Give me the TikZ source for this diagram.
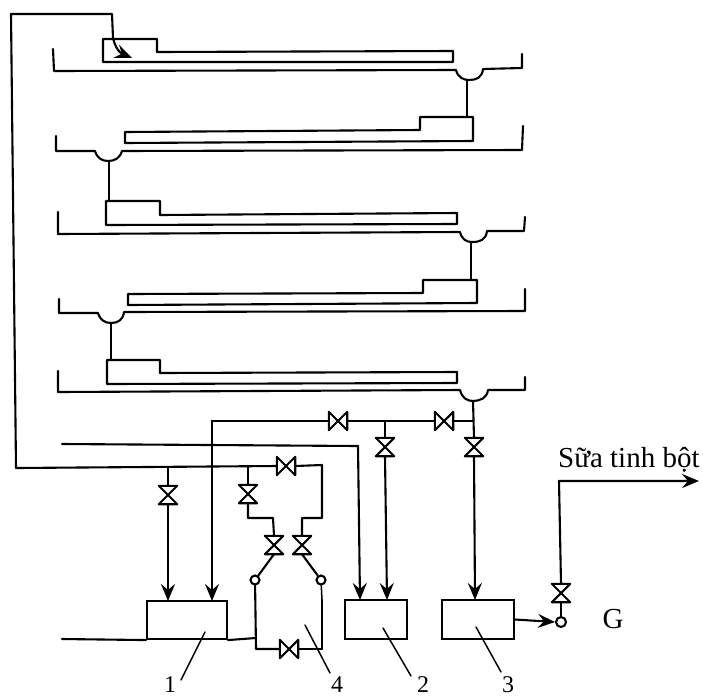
\documentclass[tikz,border=0pt]{standalone}
\usepackage{fontspec}
\setmainfont{Liberation Serif}
\usetikzlibrary{arrows.meta}
\tikzset{
  pipe/.style={line width=2.1pt,line join=round,line cap=round},
  thin pipe/.style={line width=1.5pt,line cap=round},
  flow/.style={pipe,-{Stealth[length=17pt,width=14pt,inset=6pt]}},
  vesselbox/.style={draw,line width=2.1pt,rectangle,inner sep=0pt},
  valvenode/.style={rectangle,inner sep=0pt,minimum width=18pt,minimum height=18pt},
  sep/.style={circle,draw,line width=2.1pt,fill=white,inner sep=0pt,minimum size=9pt},
  lab/.style={font=\fontsize{24}{24}\selectfont,inner sep=0pt},
  outlab/.style={font=\fontsize{29}{29}\selectfont,inner sep=0pt}
}
\newcommand{\vvalve}[3]{\node[valvenode] (#1) at (#2,#3) {};
  \draw[pipe] (#1.north west)--(#1.north east)--(#1.south west)--(#1.south east)--cycle;}
\newcommand{\hvalve}[3]{\node[valvenode] (#1) at (#2,#3) {};
  \draw[pipe] (#1.north west)--(#1.south west)--(#1.north east)--(#1.south east)--cycle;}
\begin{document}
\begin{tikzpicture}[x=1pt,y=-1pt]
\useasboundingbox (0,0) rectangle (703,699);
% trays and channels
\draw[pipe] (53,49)--(54,71)--(456,70) .. controls (458,78) and (464,80) .. (469,80) .. controls (476,80) and (482,78) .. (483,69)--(522,68)--(522,54);
\draw[pipe] (103,39)--(157,39)--(157,52)--(453,51)--(453,62)--(103,62)--cycle;
\draw[pipe] (56,136)--(56,151)--(95,151) .. controls (97,158) and (102,161) .. (108,161) .. controls (115,161) and (120,158) .. (122,151)--(522,150)--(523,126);
\draw[pipe] (125,132)--(420,130)--(420,117)--(473,117)--(473,141)--(125,143)--cycle;
\draw[pipe] (58,212)--(58,234)--(460,232) .. controls (462,240) and (467,242) .. (472,242) .. controls (480,242) and (486,240) .. (487,231)--(524,231)--(525,217);
\draw[pipe] (106,201)--(160,201)--(160,215)--(457,213)--(457,224)--(106,225)--cycle;
\draw[pipe] (59,299)--(59,313)--(98,313) .. controls (100,320) and (105,323) .. (111,323) .. controls (118,323) and (123,320) .. (124,312)--(525,311)--(525,289);
\draw[pipe] (128,294)--(423,293)--(423,280)--(477,280)--(477,303)--(128,305)--cycle;
\draw[pipe] (58,371)--(58,392)--(460,390) .. controls (462,398) and (467,401) .. (473,401) .. controls (480,401) and (487,398) .. (488,390)--(525,390)--(525,377);
\draw[pipe] (107,360)--(160,360)--(160,373)--(457,372)--(457,383)--(107,384)--cycle;
% tray-to-tray pipes
\draw[pipe] (467,80)--(467,117);
\draw[pipe] (109,161)--(109,201);
\draw[pipe] (471,242)--(471,280);
\draw[pipe] (111,323)--(111,360);
% vessels
\node[vesselbox,minimum width=80pt,minimum height=38pt] (box1) at (187,620) {};
\node[vesselbox,minimum width=62pt,minimum height=39pt] (box2) at (376,619.5) {};
\node[vesselbox,minimum width=72pt,minimum height=39pt] (box3) at (478,619.5) {};
% valves
\hvalve{v338}{338}{421}
\hvalve{v444}{444}{421}
\vvalve{v385}{385}{447}
\vvalve{v473}{474}{447}
\vvalve{v168}{168}{495}
\vvalve{v248}{248}{494}
\hvalve{v286}{286}{466}
\vvalve{v274}{274}{545}
\vvalve{v302}{302}{545}
\hvalve{v289}{289}{649}
\vvalve{v561}{561}{593}
\node[sep] (cl) at (255,580) {};
\node[sep] (cr) at (321,580) {};
\node[sep,minimum size=10pt] (cg) at (561,622) {};
% feed from the last tray
\draw[pipe] (473,401)--(v473.north);
\draw[pipe] (473,421)--(v444.east);
\draw[pipe] (v444.west)--(v338.east);
\draw[pipe] (v338.west)--(212,421);
\draw[flow] (212,421)--(212,601);
\draw[flow] (v385.south)--(387,600);
\draw[pipe] (385,421)--(v385.north);
\draw[flow] (v473.south)--(475,600);
\draw[pipe] (62,444)--(358,446);
\draw[flow] (358,446)--(360,600);
% return line
\draw[pipe] (v286.west)--(16,468)--(11,14)--(112,14)--(113,38);
\draw[flow] (113,38) .. controls (115,46) and (118,52) .. (132,58);
\draw[pipe] (v286.east)--(322,465)--(322,518)--(302,518)--(v302.north);
\draw[pipe] (248,467)--(v248.north);
\draw[pipe] (v248.south)--(248,518)--(273,518)--(v274.north);
\draw[pipe] (168,467)--(v168.north);
\draw[flow] (v168.south)--(168,601);
\draw[pipe] (v274.south)--(cl);
\draw[pipe] (v302.south)--(cr);
\draw[pipe] (cl)--(256,649)--(v289.west);
\draw[pipe] (v289.east)--(322,649);
\draw[thin pipe] (cr)--(322,600);
\draw[pipe] (322,600)--(322,649);
\draw[pipe] (62,639)--(box1.south west);
\draw[pipe] (box1.south east)--(256,638);
% output
\draw[flow] (box3.east)--(cg.west);
\draw[pipe] (cg)--(v561.south);
\draw[flow] (v561.north)--(559,481)--(699,481);
% leaders
\draw[thin pipe] (205,632)--(181,680);
\draw[thin pipe] (305,625)--(330,673);
\draw[thin pipe] (383,628)--(411,676);
\draw[thin pipe] (476,627)--(501,672);
% labels
\node[lab] (n1) at (170,685) {1};
\node[lab] (n4) at (337,685) {4};
\node[lab] (n2) at (423,685) {2};
\node[lab] (n3) at (508,685) {3};
\node[outlab] (ng) at (613,619) {G};
\node[outlab,anchor=base west] (out) at (558,467) {Sữa tinh bột};
\end{tikzpicture}
\end{document}
